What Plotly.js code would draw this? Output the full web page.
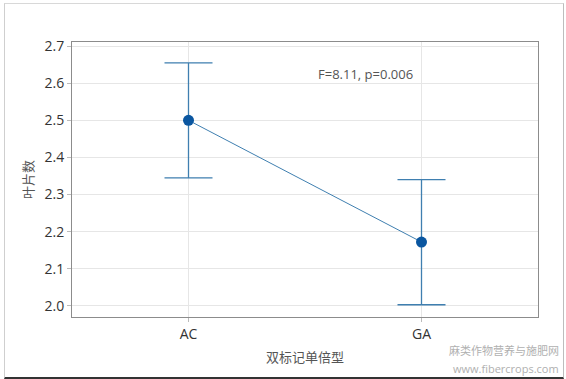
<!DOCTYPE html>
<html>
<head>
<meta charset="utf-8">
<script src="https://cdn.plot.ly/plotly-3.0.1.min.js"></script>
<style>
html,body{margin:0;padding:0;background:#fff;}
#wrap{position:relative;width:566px;height:379px;}
#chart{position:absolute;left:0;top:0;width:566px;height:379px;}
#frame{position:absolute;left:4px;top:3px;width:558px;height:373px;border-left:1px solid #cfcfcf;border-top:1px solid #d8d8d8;border-right:1px solid #bdbdbd;border-bottom:2px solid #333;pointer-events:none;}
</style>
</head>
<body>
<div id="wrap"><div id="chart"></div><div id="frame"></div></div>
<script>
const categories = ["AC", "GA"];
const means = [2.500, 2.172];
const errPlus = [0.155, 0.168];
const errMinus = [0.155, 0.169];
const yTicks = [2.0, 2.1, 2.2, 2.3, 2.4, 2.5, 2.6, 2.7];
const yTickText = ["2.0", "2.1", "2.2", "2.3", "2.4", "2.5", "2.6", "2.7"];
const statText = "F=8.11, p=0.006";
const xTitle = "双标记单倍型";
const yTitle = "叶片数";
const watermark1 = "麻类作物营养与施肥网";
const watermark2 = "www.fibercrops.com";

const FONT = "'Segoe UI', 'Open Sans', 'Noto Sans CJK SC', sans-serif";

const trace = {
  x: categories,
  y: means,
  type: "scatter",
  mode: "lines+markers",
  line: {color: "#3f7fb0", width: 1},
  marker: {color: "#0a56a0", size: 11},
  error_y: {
    type: "data",
    symmetric: false,
    array: errPlus,
    arrayminus: errMinus,
    color: "#3f7fb0",
    thickness: 1.3,
    width: 24
  },
  hoverinfo: "skip"
};

const layout = {
  width: 566,
  height: 379,
  margin: {l: 72, r: 28, t: 42, b: 62},
  paper_bgcolor: "rgba(0,0,0,0)",
  plot_bgcolor: "#fff",
  showlegend: false,
  font: {family: FONT, color: "#333", size: 13},
  xaxis: {
    type: "category",
    range: [-0.5, 1.5],
    showgrid: true,
    gridcolor: "#e6e6e6",
    showline: true,
    linecolor: "#8c8c8c",
    mirror: true,
    ticks: "outside",
    ticklen: 4,
    tickcolor: "#bbb",
    tickfont: {family: FONT, size: 14, color: "#333"},
    zeroline: false,
    title: {text: xTitle, font: {family: FONT, size: 13, color: "#555"}, standoff: 11}
  },
  yaxis: {
    range: [1.970, 2.711],
    tickvals: yTicks,
    ticktext: yTickText,
    showgrid: true,
    gridcolor: "#e6e6e6",
    showline: true,
    linecolor: "#8c8c8c",
    mirror: true,
    ticks: "outside",
    ticklen: 4,
    tickcolor: "#bbb",
    tickfont: {family: FONT, size: 14, color: "#333"},
    zeroline: false,
    title: {text: yTitle, font: {family: FONT, size: 13, color: "#555"}, standoff: 7}
  },
  annotations: [
    {text: statText, xref: "paper", yref: "paper", x: 0.63, y: 0.885, xanchor: "center", yanchor: "middle",
     showarrow: false, font: {family: FONT, size: 13, color: "#555"}},
    {text: watermark1, xref: "paper", yref: "paper", x: 1.05, y: -0.122, xanchor: "right", yanchor: "middle",
     showarrow: false, font: {family: FONT, size: 11, color: "#b0b0b0"}},
    {text: watermark2, xref: "paper", yref: "paper", x: 1.05, y: -0.186, xanchor: "right", yanchor: "middle",
     showarrow: false, font: {family: FONT, size: 11, color: "#b0b0b0"}}
  ]
};

Plotly.newPlot("chart", [trace], layout, {displayModeBar: false, staticPlot: true});
</script>
</body>
</html>
